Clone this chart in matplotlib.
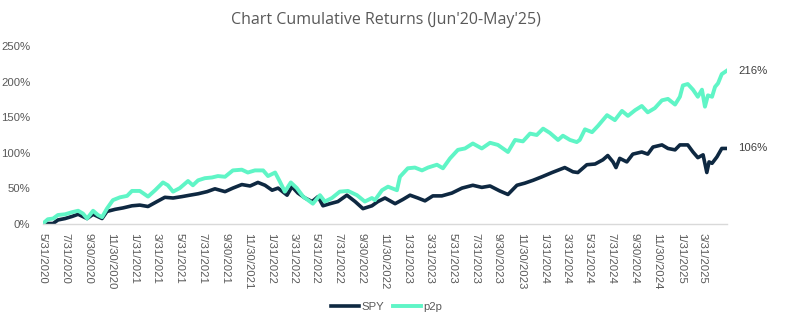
import matplotlib
matplotlib.use("Agg")
import matplotlib.pyplot as plt
import matplotlib.dates as mdates
from matplotlib.ticker import FuncFormatter
import pandas as pd

title = "Chart Cumulative Returns (Jun'20-May'25)"

# cumulative return in %
spy_dates = [
    "2020-05-31", "2020-06-27", "2020-07-10", "2020-07-29", "2020-08-17", "2020-09-02",
    "2020-09-26", "2020-10-12", "2020-11-05", "2020-11-18", "2020-12-10", "2020-12-31",
    "2021-01-24", "2021-02-14", "2021-03-08", "2021-04-01", "2021-04-22", "2021-05-14",
    "2021-06-07", "2021-06-28", "2021-07-20", "2021-08-13", "2021-09-03", "2021-09-30",
    "2021-10-21", "2021-11-14", "2021-12-06", "2021-12-27", "2022-01-15", "2022-02-03",
    "2022-02-19", "2022-03-15", "2022-03-28", "2022-04-13", "2022-05-02", "2022-05-21",
    "2022-06-06", "2022-06-19", "2022-07-08", "2022-07-29", "2022-08-22", "2022-09-13",
    "2022-10-04", "2022-10-28", "2022-11-13", "2022-12-02", "2022-12-29", "2023-01-19",
    "2023-02-07", "2023-02-28", "2023-03-19", "2023-04-09", "2023-05-03", "2023-05-30",
    "2023-06-26", "2023-07-25", "2023-08-18", "2023-09-09", "2023-10-05", "2023-10-27",
    "2023-11-20", "2023-12-11", "2024-01-02", "2024-01-26", "2024-02-22", "2024-03-27",
    "2024-04-18", "2024-05-01", "2024-05-25", "2024-06-16", "2024-07-07", "2024-07-20",
    "2024-08-03", "2024-08-11", "2024-08-21", "2024-09-09", "2024-09-25", "2024-10-19",
    "2024-11-04", "2024-11-18", "2024-12-12", "2024-12-28", "2025-01-16", "2025-01-29",
    "2025-02-19", "2025-03-05", "2025-03-18", "2025-04-01", "2025-04-11", "2025-04-17",
    "2025-04-25", "2025-05-08", "2025-05-21", "2025-06-04",
]
spy_values = [
    0, 0, 5, 7, 10, 13,
    7, 13, 7, 17, 20, 22,
    25, 26, 24, 31, 37, 36,
    38, 40, 42, 45, 49, 45,
    50, 55, 53, 58, 54, 47,
    50, 40, 52, 43, 36, 31,
    38, 25, 28, 31, 40, 31,
    21, 25, 31, 36, 28, 34,
    40, 36, 32, 39, 39, 43,
    50, 54, 51, 53, 46, 41,
    54, 57, 61, 66, 72, 79,
    73, 72, 83, 84, 90, 96,
    87, 79, 92, 87, 98, 101,
    98, 108, 111, 106, 104, 111,
    111, 101, 93, 97, 72, 87,
    85, 94, 106, 106,
]

p2p_dates = [
    "2020-05-31", "2020-06-13", "2020-06-27", "2020-07-10", "2020-07-29", "2020-08-17",
    "2020-09-02", "2020-09-15", "2020-09-26", "2020-10-12", "2020-10-25", "2020-11-05",
    "2020-11-18", "2020-12-04", "2020-12-23", "2021-01-11", "2021-01-24", "2021-02-14",
    "2021-03-08", "2021-03-27", "2021-04-17", "2021-04-30", "2021-05-14", "2021-06-01",
    "2021-06-23", "2021-07-06", "2021-07-20", "2021-08-07", "2021-08-26", "2021-09-11",
    "2021-09-30", "2021-10-21", "2021-11-14", "2021-11-30", "2021-12-19", "2022-01-10",
    "2022-01-23", "2022-02-11", "2022-02-24", "2022-03-09", "2022-03-25", "2022-04-10",
    "2022-04-27", "2022-05-10", "2022-05-23", "2022-06-11", "2022-06-24", "2022-07-13",
    "2022-08-03", "2022-08-25", "2022-09-18", "2022-10-09", "2022-10-28", "2022-11-05",
    "2022-11-24", "2022-12-10", "2023-01-03", "2023-01-11", "2023-02-01", "2023-02-20",
    "2023-03-11", "2023-03-27", "2023-04-20", "2023-05-06", "2023-05-25", "2023-06-15",
    "2023-07-04", "2023-07-25", "2023-08-18", "2023-09-09", "2023-09-30", "2023-10-27",
    "2023-11-15", "2023-12-06", "2023-12-25", "2024-01-12", "2024-01-29", "2024-02-16",
    "2024-03-09", "2024-03-22", "2024-04-10", "2024-04-28", "2024-05-06", "2024-05-20",
    "2024-06-08", "2024-06-24", "2024-07-18", "2024-08-08", "2024-08-27", "2024-09-12",
    "2024-10-01", "2024-10-19", "2024-11-04", "2024-11-23", "2024-12-12", "2024-12-28",
    "2025-01-16", "2025-01-29", "2025-02-06", "2025-02-19", "2025-03-05", "2025-03-18",
    "2025-03-29", "2025-04-06", "2025-04-14", "2025-04-25", "2025-05-03", "2025-05-11",
    "2025-05-21", "2025-06-04",
]
p2p_values = [
    0, 6, 7, 12, 13, 16,
    18, 14, 7, 18, 12, 9,
    21, 33, 37, 39, 46, 46,
    38, 47, 58, 54, 45, 50,
    60, 54, 61, 64, 65, 67,
    66, 75, 76, 72, 75, 75,
    67, 72, 59, 45, 58, 50,
    38, 33, 28, 40, 31, 36,
    45, 46, 40, 31, 36, 33,
    47, 52, 47, 66, 78, 79,
    75, 79, 83, 78, 92, 104,
    106, 113, 106, 114, 111, 101,
    118, 116, 127, 125, 134, 128,
    118, 124, 118, 115, 118, 133,
    129, 138, 153, 146, 159, 152,
    160, 166, 157, 163, 174, 176,
    168, 179, 195, 197, 189, 179,
    189, 165, 181, 179, 193, 198,
    211, 216,
]

tick_labels = [
    "5/31/2020", "7/31/2020", "9/30/2020", "11/30/2020",
    "1/31/2021", "3/31/2021", "5/31/2021", "7/31/2021", "9/30/2021", "11/30/2021",
    "1/31/2022", "3/31/2022", "5/31/2022", "7/31/2022", "9/30/2022", "11/30/2022",
    "1/31/2023", "3/31/2023", "5/31/2023", "7/31/2023", "9/30/2023", "11/30/2023",
    "1/31/2024", "3/31/2024", "5/31/2024", "7/31/2024", "9/30/2024", "11/30/2024",
    "1/31/2025", "3/31/2025",
]
y_ticks = [0, 50, 100, 150, 200, 250]

spy_color = "#0E2841"
p2p_color = "#5FF5C6"
text_color = "#595959"

plt.rcParams["font.family"] = ["Liberation Sans", "DejaVu Sans"]

fig = plt.figure(figsize=(7.95, 3.22), dpi=100)
ax = fig.add_axes([43 / 795, 1 - 223.5 / 322, (727 - 43) / 795, (223.5 - 46.5) / 322])

spy_x = pd.to_datetime(spy_dates)
p2p_x = pd.to_datetime(p2p_dates)
ax.plot(spy_x, spy_values, color=spy_color, lw=2.6, label="SPY")
ax.plot(p2p_x, p2p_values, color=p2p_color, lw=2.8, label="p2p")

# end-of-series labels
for x, v in [(spy_x[-1], spy_values[-1]), (p2p_x[-1], p2p_values[-1])]:
    ax.annotate(f"{v:.0f}%", xy=(x, v), xytext=(8, 0), textcoords="offset points",
                va="center", ha="left", fontsize=8.2, color="#404040")

ax.set_xlim(pd.Timestamp("2020-05-31"), pd.Timestamp("2025-06-04"))
ax.set_ylim(0, 250)
ax.set_yticks(y_ticks)
ax.yaxis.set_major_formatter(FuncFormatter(lambda v, pos: f"{v:.0f}%"))
ax.set_xticks(pd.to_datetime(tick_labels, format="%m/%d/%Y"))
ax.set_xticklabels(tick_labels, rotation=270, va="top", ha="center")

ax.tick_params(axis="both", length=0, labelsize=8.2, labelcolor=text_color)
ax.tick_params(axis="x", pad=7)
ax.tick_params(axis="y", pad=9)
for side in ["top", "right", "left"]:
    ax.spines[side].set_visible(False)
ax.spines["bottom"].set_color("#D9D9D9")
ax.spines["bottom"].set_linewidth(1)

fig.text(386 / 795, 1 - 20 / 322, title, ha="center", va="center",
         fontsize=11.5, color=text_color, family=["Open Sans", "DejaVu Sans"])

fig.legend(loc="center", bbox_to_anchor=(387 / 795, 1 - 307 / 322), ncol=2, frameon=False,
           fontsize=8.2, labelcolor=text_color, handlelength=2.4, handletextpad=0.25,
           columnspacing=0.8)

fig.savefig("out.png", dpi=100)
